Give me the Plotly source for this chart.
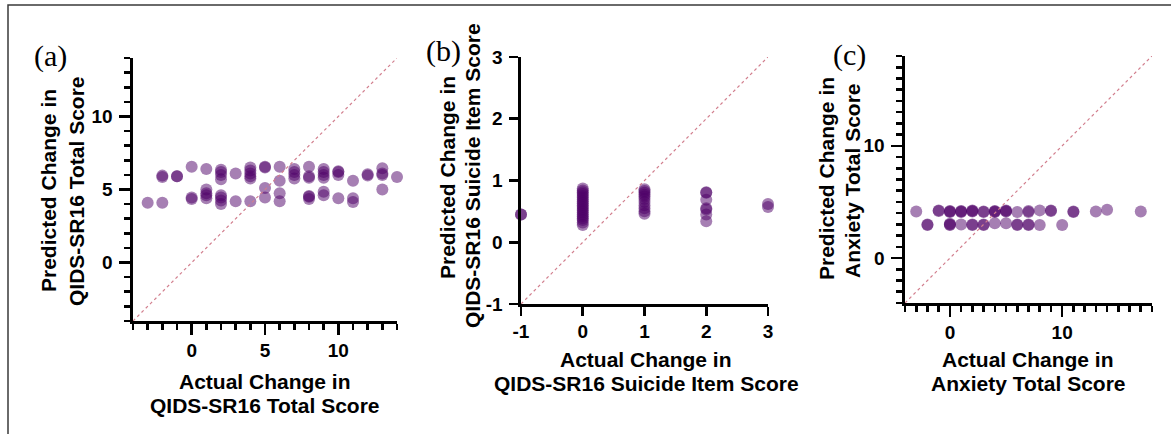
import plotly.graph_objects as go

W, H = 1171, 434

# ---------------- data ----------------
# Panel (a): QIDS-SR16 total score
a_actual = [-3,
            -2, -2, -2,
            -1, -1,
            0, 0, 0,
            1, 1, 1, 1, 1,
            2, 2, 2, 2, 2, 2, 2, 2,
            3, 3,
            4, 4, 4, 4, 4, 4,
            5, 5, 5, 5,
            6, 6, 6, 6,
            7, 7, 7, 7,
            8, 8, 8, 8, 8, 8,
            9, 9, 9, 9, 9, 9,
            10, 10, 10, 10,
            11, 11, 11,
            12, 12,
            13, 13, 13, 13,
            14]
a_pred = [4.1,
          4.1, 5.85, 5.95,
          5.9, 5.9,
          6.55, 4.35, 4.45,
          6.4, 5.0, 4.75, 4.6, 4.4,
          6.35, 6.2, 6.0, 5.7, 4.6, 4.45, 4.25, 4.0,
          6.1, 4.2,
          6.5, 6.3, 6.1, 5.9, 5.75, 4.2,
          6.55, 6.5, 5.1, 4.45,
          6.55, 5.6, 4.75, 4.2,
          6.4, 6.2, 6.0, 5.75,
          6.55, 5.9, 5.8, 4.55, 4.5, 4.35,
          6.4, 6.2, 6.0, 5.8, 4.85, 4.6,
          6.25, 6.2, 6.0, 4.4,
          5.6, 4.4, 4.15,
          5.95, 6.05,
          6.45, 6.1, 6.0, 5.0,
          5.85]

# Panel (b): QIDS-SR16 suicide item score
b_actual = ([-1] * 2 + [0] * 20 + [1] * 11 + [2] * 7 + [3] * 2)
b_pred = [0.45, 0.45,
          0.87, 0.84, 0.81, 0.78, 0.75, 0.72, 0.69, 0.66, 0.63, 0.60,
          0.57, 0.54, 0.51, 0.48, 0.45, 0.42, 0.39, 0.36, 0.32, 0.28,
          0.86, 0.83, 0.80, 0.77, 0.74, 0.70, 0.65, 0.60, 0.55, 0.50, 0.46,
          0.81, 0.80, 0.69, 0.55, 0.53, 0.45, 0.34,
          0.62, 0.57]
b_ticks = [-1, 0, 1, 2, 3]
b_ticklabels = ["-1", "0", "1", "2", "3"]

# Panel (c): anxiety total score
c_actual = [-3, -1, -1, 0, 0, 0, 1, 1, 1, 2, 2, 2, 3, 3, 4, 4, 4, 5, 5, 5,
            6, 7, 7, 8, 9, 9, 11, 11, 13, 14, 17,
            -2, -2, 0, 0, 0, 1, 2, 2, 3, 3, 4, 5, 6, 6, 7, 7, 8, 10]
c_pred = [4.15, 4.2, 4.25, 4.1, 4.15, 4.2, 4.1, 4.15, 4.2, 4.15, 4.2, 4.25,
          4.1, 4.15, 4.1, 4.15, 4.2, 4.15, 4.2, 4.25,
          4.1, 4.1, 4.2, 4.25, 4.2, 4.25, 4.1, 4.15, 4.15, 4.3, 4.15,
          2.95, 3.0, 2.95, 3.0, 3.05, 3.0, 2.95, 3.0, 2.95, 3.0, 3.1, 3.1,
          2.95, 3.0, 2.95, 3.0, 2.95, 2.95]

# identity lines (y = x) spanning each axis range
diag_a = [-4, 14]
diag_b = [-1, 3]
diag_c = [-4, 18]

# ---------------- figure ----------------
PURPLE = "rgba(78,0,104,0.5)"
DIAG = "#d27f8e"

fig = go.Figure()

def add_panel(xs, ys, diag, xa, ya):
    fig.add_trace(go.Scatter(x=xs, y=ys, mode="markers", xaxis=xa, yaxis=ya,
                             marker=dict(size=12, color=PURPLE, line=dict(width=0)),
                             cliponaxis=False, showlegend=False, hoverinfo="skip"))
    fig.add_trace(go.Scatter(x=diag, y=diag, mode="lines", xaxis=xa, yaxis=ya,
                             line=dict(color=DIAG, width=1.2, dash="dot"),
                             showlegend=False, hoverinfo="skip"))

add_panel(a_actual, a_pred, diag_a, "x", "y")
add_panel(b_actual, b_pred, diag_b, "x2", "y2")
add_panel(c_actual, c_pred, diag_c, "x3", "y3")

def px_x(p):
    return p / W

def px_y(p):
    return 1 - p / H

tickfont = dict(family="Liberation Sans, Arial", size=19, color="black", weight="bold")

def axis(domain, rng, dtick, minor, ticklen, anchor, standoff):
    d = dict(domain=domain, range=rng, anchor=anchor, showgrid=False, zeroline=False,
             showline=True, linecolor="black", linewidth=2.6, automargin=False,
             ticks="outside", ticklen=ticklen, tickwidth=2.6, tickcolor="black",
             tick0=0, dtick=dtick, tickfont=tickfont, ticklabelstandoff=standoff)
    if minor:
        d["minor"] = dict(dtick=1, tick0=0, ticks="outside", ticklen=6, tickwidth=2.6,
                          tickcolor="black", showgrid=False)
    return d

# pixel layout of the three plot areas
A = dict(x0=133, x1=397, y0=58, y1=321)
B = dict(x0=521, x1=768, y0=57, y1=304)
C = dict(x0=905, x1=1152, y0=56, y1=303)

xa2 = axis([px_x(B["x0"]), px_x(B["x1"])], diag_b, 1, False, 9, "y2", 0)
xa2.update(tickmode="array", tickvals=b_ticks, ticktext=b_ticklabels)
ya2 = axis([px_y(B["y1"]), px_y(B["y0"])], diag_b, 1, False, 9, "x2", 3)
ya2.update(tickmode="array", tickvals=b_ticks, ticktext=b_ticklabels)

fig.update_layout(
    template="none",
    width=W, height=H, margin=dict(l=0, r=0, t=0, b=0, pad=0, autoexpand=False),
    paper_bgcolor="white", plot_bgcolor="white",
    xaxis=axis([px_x(A["x0"]), px_x(A["x1"])], diag_a, 5, True, 11, "y", 0),
    yaxis=axis([px_y(A["y1"]), px_y(A["y0"])], diag_a, 5, True, 11, "x", 3),
    xaxis2=xa2,
    yaxis2=ya2,
    xaxis3=axis([px_x(C["x0"]), px_x(C["x1"])], diag_c, 10, True, 11, "y3", 0),
    yaxis3=axis([px_y(C["y1"]), px_y(C["y0"])], diag_c, 10, True, 11, "x3", 3),
)

titlefont = dict(family="Liberation Sans, Arial", size=21, color="black")
labelfont = dict(family="Liberation Serif, Times New Roman", size=30, color="black")

def ann(text, x, y, font, angle=0):
    fig.add_annotation(text=text, x=px_x(x), y=px_y(y), xref="paper", yref="paper",
                       xanchor="center", yanchor="middle", showarrow=False,
                       font=font, textangle=angle)

# panel labels
ann("(a)", 50, 56, labelfont)
ann("(b)", 443, 51, labelfont)
ann("(c)", 849, 55, labelfont)

# panel (a) titles
ann("<b>Predicted Change in</b>", 49, 191, titlefont, -90)
ann("<b>QIDS-SR16 Total Score</b>", 77, 191, titlefont, -90)
ann("<b>Actual Change in</b>", 265, 381, titlefont)
ann("<b>QIDS-SR16 Total Score</b>", 265, 405, titlefont)

# panel (b) titles
ann("<b>Predicted Change in</b>", 447, 178, titlefont, -90)
ann("<b>QIDS-SR16 Suicide Item Score</b>", 472, 176, titlefont, -90)
ann("<b>Actual Change in</b>", 646, 359, titlefont)
ann("<b>QIDS-SR16 Suicide Item Score</b>", 646, 383, titlefont)

# panel (c) titles
ann("<b>Predicted Change in</b>", 826, 179, titlefont, -90)
ann("<b>Anxiety Total Score</b>", 852, 180, titlefont, -90)
ann("<b>Actual Change in</b>", 1028, 359, titlefont)
ann("<b>Anxiety Total Score</b>", 1028, 383, titlefont)

# outer frame of the figure
fig.add_shape(type="rect", xref="paper", yref="paper",
              x0=px_x(8), x1=1.05, y0=-0.05, y1=px_y(5),
              line=dict(color="#3a3a3a", width=1.5), fillcolor="rgba(0,0,0,0)", layer="below")

fig.write_html("out.html",
               config={"displayModeBar": False, "staticPlot": True},
               post_script="document.documentElement.style.margin='0px';"
                           "document.body.style.margin='0px';"
                           "document.body.style.padding='0px';"
                           "document.body.style.overflow='hidden';"
                           "var d=document.getElementById('{plot_id}');"
                           "d.style.position='absolute';d.style.left='0px';d.style.top='0px';")
